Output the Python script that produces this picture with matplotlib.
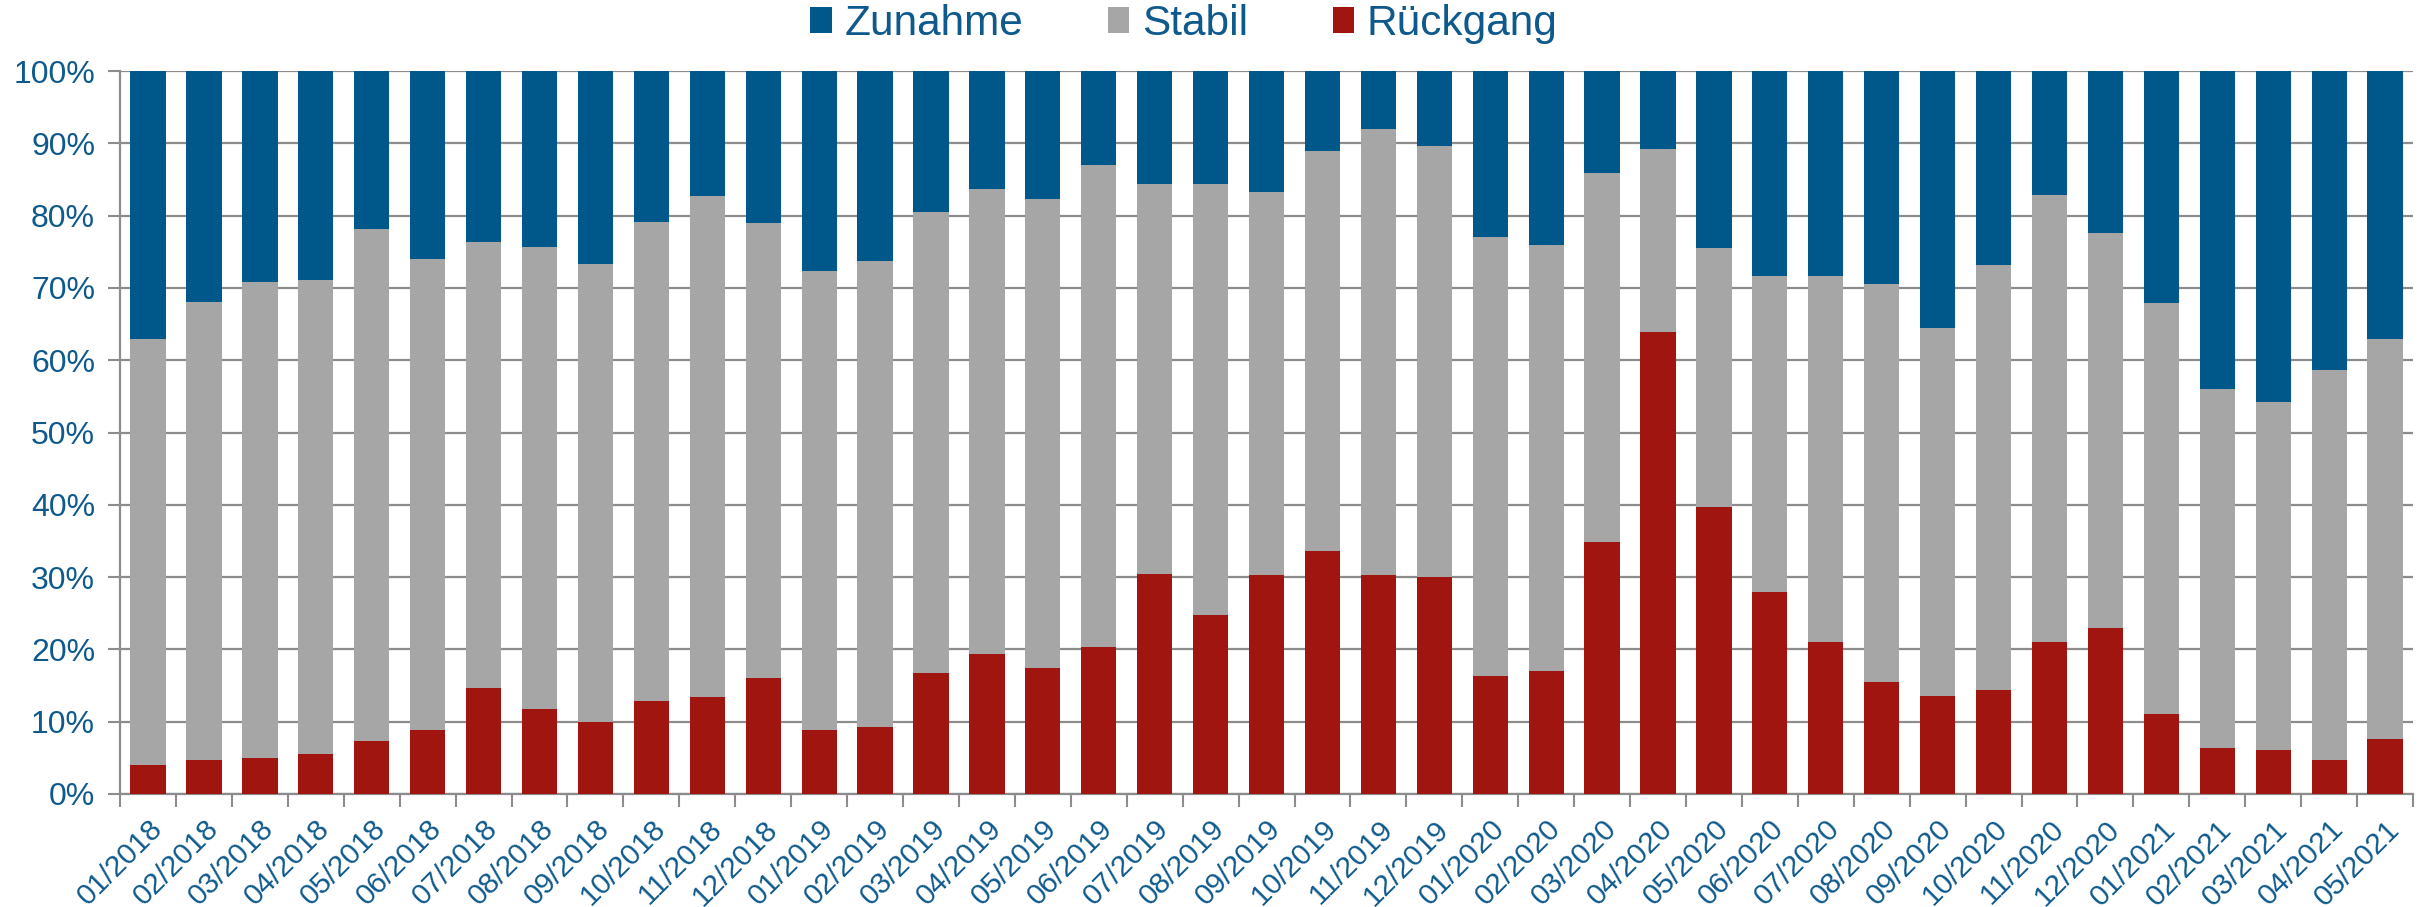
"""
Stacked 100% bar chart: Zunahme / Stabil / Rückgang per month.
"""
import matplotlib
matplotlib.use("Agg")
import matplotlib.pyplot as plt
import numpy as np

# months on the x axis
months = [
    "01/2018", "02/2018", "03/2018", "04/2018", "05/2018", "06/2018",
    "07/2018", "08/2018", "09/2018", "10/2018", "11/2018", "12/2018",
    "01/2019", "02/2019", "03/2019", "04/2019", "05/2019", "06/2019",
    "07/2019", "08/2019", "09/2019", "10/2019", "11/2019", "12/2019",
    "01/2020", "02/2020", "03/2020", "04/2020", "05/2020", "06/2020",
    "07/2020", "08/2020", "09/2020", "10/2020", "11/2020", "12/2020",
    "01/2021", "02/2021", "03/2021", "04/2021", "05/2021",
]

# share of answers "Rückgang" (percent)
rueckgang = [
    4.0, 4.7, 5.0, 5.5, 7.3, 8.8, 14.7, 11.7, 10.0, 12.8, 13.4, 16.0,
    8.8, 9.2, 16.7, 19.4, 17.4, 20.3, 30.4, 24.8, 30.3, 33.6, 30.3, 30.0,
    16.3, 17.0, 34.8, 63.9, 39.7, 28.0, 21.0, 15.5, 13.6, 14.4, 21.0, 23.0,
    11.1, 6.4, 6.1, 4.7, 7.6,
]

# cumulative top of "Stabil" (Rückgang + Stabil, percent)
stabil_top = [
    63.0, 68.0, 70.8, 71.1, 78.2, 74.0, 76.4, 75.7, 73.3, 79.1, 82.7, 79.0,
    72.3, 73.7, 80.5, 83.7, 82.3, 87.0, 84.4, 84.4, 83.2, 89.0, 92.0, 89.6,
    77.0, 76.0, 85.9, 89.2, 75.5, 71.6, 71.6, 70.5, 64.4, 73.1, 82.9, 77.6,
    67.9, 56.0, 54.2, 58.7, 62.9,
]

COL_UP = "#00578A"
COL_STABLE = "#A6A6A6"
COL_DOWN = "#A01510"
COL_TEXT = "#0F5A8C"
COL_GRID = "#8C8C8C"

plt.rcParams["font.family"] = ["Liberation Sans", "DejaVu Sans"]

rueckgang_arr = np.array(rueckgang)
stabil_arr = np.array(stabil_top) - rueckgang_arr
zunahme_arr = 100.0 - np.array(stabil_top)

fig = plt.figure(figsize=(24.21, 9.07), dpi=100)
ax = fig.add_axes([0.0496, 0.1246, 0.9471, 0.7971])

x = np.arange(len(months))
width = 0.63
b_down = ax.bar(x, rueckgang_arr, width, color=COL_DOWN, label="Rückgang", zorder=3)
b_stab = ax.bar(x, stabil_arr, width, bottom=rueckgang_arr, color=COL_STABLE,
                label="Stabil", zorder=3)
b_up = ax.bar(x, zunahme_arr, width, bottom=np.array(stabil_top), color=COL_UP,
              label="Zunahme", zorder=3)

# axes
ax.set_xlim(-0.5, len(months) - 0.5)
ax.set_ylim(0, 100)
ax.set_yticks(np.arange(0, 101, 10))
ax.set_yticklabels([f"{v}%" for v in range(0, 101, 10)])
ax.yaxis.grid(True, color=COL_GRID, linewidth=1.6, zorder=0)
ax.set_axisbelow(True)

# x ticks between the bars, labels centred on the bars
ax.set_xticks(np.arange(-0.5, len(months), 1.0))
ax.set_xticklabels([])
ax.set_xticks(x, minor=True)
ax.set_xticklabels(months, minor=True, rotation=45, ha="right", va="top",
                   rotation_mode="anchor")
ax.tick_params(axis="x", which="minor", length=0, pad=15, labelsize=21.5,
               labelcolor=COL_TEXT)
ax.tick_params(axis="x", which="major", length=9, width=1.5, color=COL_GRID)
ax.tick_params(axis="y", length=9, width=1.5, color=COL_GRID, labelsize=23,
               labelcolor=COL_TEXT, pad=9)

for side in ("top", "right"):
    ax.spines[side].set_visible(False)
for side in ("left", "bottom"):
    ax.spines[side].set_color(COL_GRID)
    ax.spines[side].set_linewidth(1.6)

# legend at the top
leg = fig.legend([b_up, b_stab, b_down], ["Zunahme", "Stabil", "Rückgang"],
                 loc="center", bbox_to_anchor=(0.489, 1 - 24 / 907), ncol=3,
                 frameon=False, fontsize=30.5, handlelength=0.5, handleheight=0.55,
                 handletextpad=0.3, columnspacing=2.0)
for t in leg.get_texts():
    t.set_color(COL_TEXT)

fig.savefig("out.png", dpi=100)
